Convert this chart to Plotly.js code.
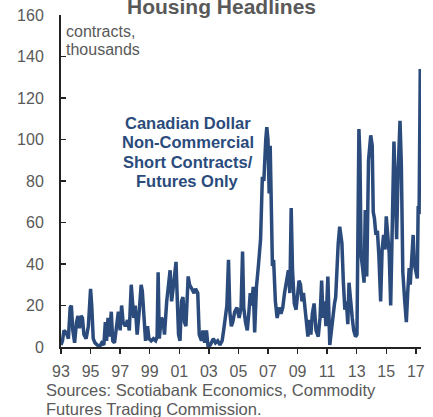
<!DOCTYPE html>
<html>
<head>
<meta charset="utf-8">
<script src="https://cdn.plot.ly/plotly-3.0.1.min.js"></script>
<style>html,body{margin:0;padding:0;background:#fff;}#chart{width:433px;height:417px;}</style>
</head>
<body>
<div id="chart"></div>
<script>
// decimal years
var years = [
1993.00,1993.10,1993.20,1993.35,1993.50,1993.62,1993.70,1993.80,1993.92,1994.05,1994.15,1994.25,1994.35,1994.45,1994.55,1994.70,1994.85,
1995.00,1995.08,1995.18,1995.30,1995.45,1995.60,1995.75,1995.90,1996.00,1996.08,1996.18,1996.28,1996.40,1996.50,1996.62,1996.75,1996.88,
1997.00,1997.10,1997.20,1997.35,1997.50,1997.62,1997.75,1997.82,1997.92,1998.02,1998.15,1998.30,1998.42,1998.50,1998.60,1998.72,1998.85,1998.95,
1999.10,1999.25,1999.40,1999.50,1999.57,1999.65,1999.78,1999.90,2000.00,2000.15,2000.38,2000.48,2000.60,2000.78,2000.88,2000.95,
2001.05,2001.15,2001.25,2001.35,2001.45,2001.60,2001.70,2001.85,2002.00,2002.10,2002.25,2002.35,2002.50,2002.60,2002.72,2002.84,2002.95,
2003.10,2003.30,2003.45,2003.60,2003.75,2003.90,2004.00,2004.10,2004.22,2004.33,2004.42,2004.52,2004.62,2004.75,2004.90,
2005.05,2005.18,2005.28,2005.36,2005.48,2005.60,2005.70,2005.80,2005.90,2006.00,2006.10,2006.22,2006.35,2006.50,2006.62,2006.72,2006.85,2006.92,
2007.00,2007.08,2007.15,2007.22,2007.30,2007.38,2007.50,2007.62,2007.75,2007.88,2008.00,2008.12,2008.25,2008.38,2008.48,2008.57,2008.66,2008.78,2008.90,
2009.00,2009.10,2009.20,2009.30,2009.40,2009.50,2009.60,2009.70,2009.80,2009.90,2010.00,2010.12,2010.25,2010.40,2010.52,2010.63,2010.72,2010.82,2010.92,
2011.05,2011.18,2011.28,2011.40,2011.50,2011.58,2011.66,2011.75,2011.85,2011.92,2012.00,2012.10,2012.20,2012.30,2012.40,2012.48,2012.58,2012.70,2012.80,2012.92,
2013.02,2013.15,2013.22,2013.30,2013.40,2013.50,2013.58,2013.68,2013.80,2013.95,2014.05,2014.12,2014.20,2014.30,2014.40,2014.50,2014.62,2014.72,2014.82,2014.92,
2015.00,2015.10,2015.20,2015.30,2015.40,2015.52,2015.60,2015.70,2015.80,2015.93,2016.02,2016.12,2016.25,2016.36,2016.45,2016.55,2016.62,2016.72,2016.82,2016.90,
2017.00,2017.10,2017.16,2017.22,2017.30
];
// Canadian dollar non-commercial short contracts, thousands
var shortContracts = [
1,3,8,7,4,19,20,8,2,12,15,9,15,14,6,4,10,
28,20,4,2,1,0,2,1,12,3,14,5,17,3,2,10,17,
8,20,12,10,13,8,30,24,14,20,6,18,30,27,14,3,10,4,
3,4,3,5,36,4,14,13,6,22,37,22,29,41,20,6,
3,22,24,12,10,34,30,28,26,28,26,6,3,8,2,8,0,
1,4,2,3,1,3,8,14,20,42,17,10,12,17,19,
14,19,46,19,12,8,16,26,20,29,7,29,39,52,82,80,100,106,
100,74,97,55,39,42,22,14,19,16,19,26,32,37,26,67,37,21,18,
24,32,30,22,26,18,11,5,13,6,16,21,8,5,14,32,14,22,10,
34,1,8,14,21,24,42,50,58,53,50,31,18,22,11,31,22,14,8,5,
6,105,92,44,38,31,66,34,90,102,97,65,62,54,56,44,22,47,54,47,
63,56,45,20,51,99,80,52,84,109,88,36,22,12,26,38,30,40,54,40,
35,33,68,64,134
];
var xTickVals = [1993,1995,1997,1999,2001,2003,2005,2007,2009,2011,2013,2015,2017];
var xTickText = ["93","95","97","99","01","03","05","07","09","11","13","15","17"];
var yTickVals = [0,20,40,60,80,100,120,140,160];

var blue = "#2a4b7c";
var gray = "#595959";
var font = "Liberation Sans, Arial, sans-serif";

var trace = {
  x: years, y: shortContracts, type: "scatter", mode: "lines",
  line: {color: blue, width: 3.5, shape: "linear"}, hoverinfo: "none"
};

function ann(text, x, y, xa, size, color, bold) {
  return {text: bold ? "<b>" + text + "</b>" : text, x: x, y: y, xref: "paper", yref: "paper",
    xanchor: xa, yanchor: "middle", showarrow: false,
    font: {family: font, size: size, color: color}};
}

var layout = {
  width: 433, height: 417,
  margin: {l: 61, r: 12, t: 15, b: 70, pad: 0},
  paper_bgcolor: "#fff", plot_bgcolor: "#fff",
  showlegend: false,
  font: {family: font, size: 16, color: gray},
  xaxis: {
    range: [1993, 2017.35], tickmode: "array", tickvals: xTickVals, ticktext: xTickText,
    ticks: "outside", ticklen: 5, tickwidth: 1.5, tickcolor: "#222",
    showline: true, linecolor: "#222", linewidth: 2, showgrid: false, zeroline: false,
    ticklabelstandoff: 4, automargin: false,
    tickfont: {family: font, size: 16, color: gray}
  },
  yaxis: {
    range: [0, 160], tickmode: "array", tickvals: yTickVals,
    ticks: "inside", ticklen: 5, tickwidth: 1.5, tickcolor: "#222",
    showline: true, linecolor: "#222", linewidth: 2, showgrid: false, zeroline: false,
    ticklabelstandoff: 12, automargin: false,
    tickfont: {family: font, size: 16, color: gray}
  },
  annotations: [
    ann("Housing Headlines", 0.4466, 1.0271, "center", 21, gray, true),
    ann("contracts,", 0.0089, 0.9496, "left", 16, gray, false),
    ann("thousands", 0.0089, 0.8954, "left", 16, gray, false),
    ann("Canadian Dollar", 0.3525, 0.6747, "center", 16.5, blue, true),
    ann("Non-Commercial", 0.3525, 0.6165, "center", 16.5, blue, true),
    ann("Short Contracts/", 0.3525, 0.5583, "center", 16.5, blue, true),
    ann("Futures Only", 0.3525, 0.5001, "center", 16.5, blue, true),
    ann("Sources: Scotiabank Economics, Commodity", -0.046, -0.1285, "left", 16.5, gray, false),
    ann("Futures Trading Commission.", -0.046, -0.186, "left", 16.5, gray, false)
  ]
};

Plotly.newPlot("chart", [trace], layout, {staticPlot: true, displayModeBar: false});
</script>
</body>
</html>
